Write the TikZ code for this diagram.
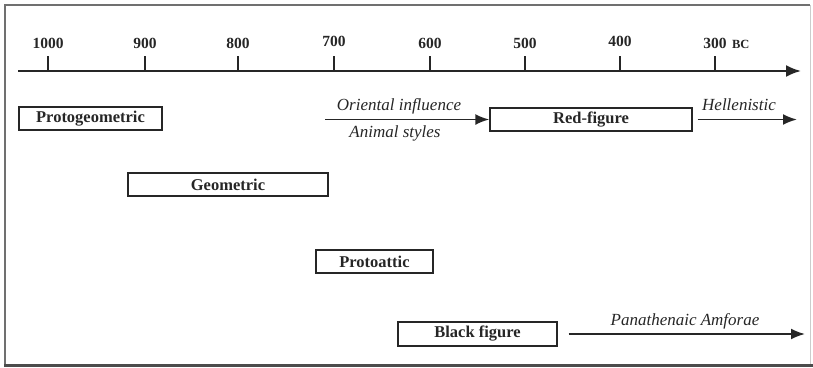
\documentclass[tikz,border=0pt]{standalone}
\usepackage{fontspec}
\setmainfont{Liberation Serif}
\usetikzlibrary{arrows.meta}
\definecolor{ink}{HTML}{262626}
\definecolor{frame}{HTML}{707070}
\tikzset{
  period/.style={draw=ink, line width=1.4pt, minimum height=23pt, inner sep=0pt,
    font=\fontsize{16.5}{18}\selectfont\bfseries, text=ink},
  yearlbl/.style={anchor=base, inner sep=0pt, font=\fontsize{15.5}{17}\selectfont\bfseries, text=ink},
  influence/.style={anchor=base, inner sep=0pt, font=\fontsize{17}{19}\selectfont\itshape, text=ink},
  flow/.style={draw=ink, line width=1.9pt, -{Latex[length=14pt,width=11pt]}},
  tickmark/.style={draw=ink, line width=1.7pt}
}
\begin{document}
\begin{tikzpicture}[x=1pt,y=-1pt]
\useasboundingbox (0,0) rectangle (813,367);
% frame
\draw[frame, line width=1.2pt] (5,365) -- (5,5) -- (810,5);
\draw[black!20, line width=0.8pt] (810,5) -- (810,365);
\draw[black!70, line width=2.6pt] (4,365.5) -- (813,365.5);
% axis
\coordinate (axs) at (18,71);
\coordinate (axe) at (801,71);
\draw[flow, line width=2.1pt, -{Latex[length=15pt,width=12pt]}] (axs) -- (axe);
% ticks and labels
\foreach \yr/\x/\b in {1000/48/48, 900/145/48, 800/238/48, 700/334/46, 600/430/48, 500/525/48, 400/620/46, 300/715/48}{
  \draw[tickmark] (\x,56) -- (\x,71);
  \node[yearlbl] (y\yr) at (\x,\b) {\yr};
}
\node[anchor=base west, inner sep=0pt, font=\fontsize{12.5}{14}\selectfont\bfseries, text=ink] (bc) at ([xshift=5pt]y300.base east) {BC};
% periods
\node[period, minimum width=143pt] (proto) at (90.5,118.5) {Protogeometric};
\node[period, minimum width=200pt] (geo) at (228,184.5) {Geometric};
\node[period, minimum width=117pt] (patt) at (374.5,261.5) {Protoattic};
\node[period, minimum width=159pt, minimum height=24pt] (black) at (477.5,334) {Black figure};
\node[period, minimum width=202pt] (red) at (591,119.5) {Red-figure};
% influences
\coordinate (ori) at (325,119.5);
\draw[flow] (ori) -- (red.west);
\node[influence] (orit) at (399,110) {Oriental influence};
\node[influence] (anim) at (395,137.5) {Animal styles};
\coordinate (hels) at ([xshift=5pt]red.east);
\coordinate (hele) at (797,119.5);
\draw[flow] (hels) -- (hele);
\node[influence] (helt) at (739,110) {Hellenistic};
\coordinate (pans) at ([xshift=11pt]black.east);
\coordinate (pane) at (805,334);
\draw[flow] (pans) -- (pane);
\node[influence] (pant) at (685,325) {Panathenaic Amforae};
\end{tikzpicture}
\end{document}
